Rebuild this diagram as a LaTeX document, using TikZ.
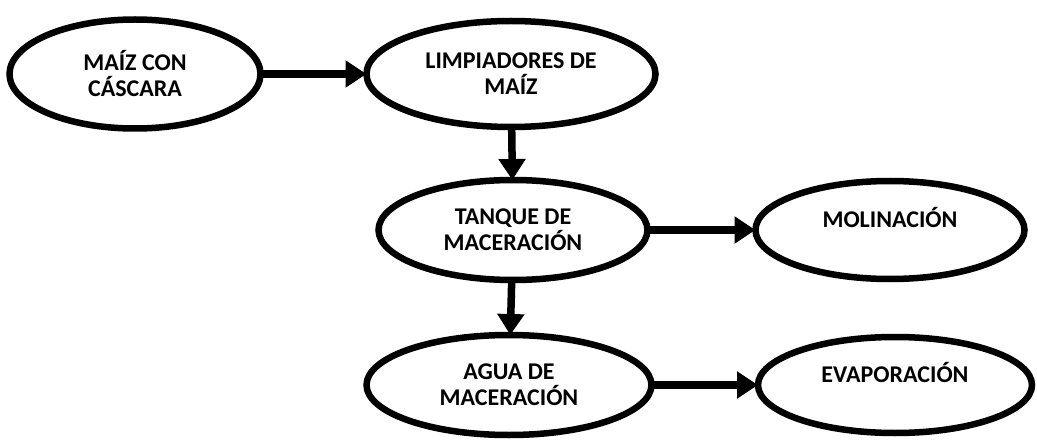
\documentclass[tikz,border=0pt]{standalone}
\usepackage{fontspec}
\setmainfont{Carlito}
\usetikzlibrary{shapes.geometric,arrows.meta,positioning}

\begin{document}
\begin{tikzpicture}[
    x=1pt, y=1pt,
    stage/.style={ellipse, draw, line width=6.5pt, inner sep=0pt, outer sep=0pt, align=center,
        font=\fontsize{24}{26}\selectfont\bfseries},
    arrow/.style={-{Triangle[length=21pt,width=26pt]}, line width=7.5pt}
]
    \useasboundingbox (0,0) rectangle (1037,-441);

    % Top row
    \node[stage, minimum width=251pt, minimum height=109pt] (maiz) at (135,-74) {MAÍZ CON\\CÁSCARA};
    \node[stage, minimum width=289pt, minimum height=106pt] (limp) at (511,-74) {LIMPIADORES DE\\MAÍZ};

    % Middle row
    \node[stage, minimum width=269pt, minimum height=100pt] (tanque) at (513,-230) {TANQUE DE\\MACERACIÓN};
    \node[stage, minimum width=269pt, minimum height=98pt] (molin) at (890,-230) {MOLINACIÓN\\\mbox{}};

    % Bottom row
    \node[stage, minimum width=285pt, minimum height=100pt] (agua) at (509,-385) {AGUA DE\\MACERACIÓN};
    \node[stage, minimum width=274pt, minimum height=96pt] (evap) at (895,-385) {EVAPORACIÓN\\\mbox{}};

    % Arrows
    \draw[arrow] (maiz) -- (limp);
    \draw[arrow] (limp) -- (tanque);
    \draw[arrow] (tanque) -- (molin);
    \draw[arrow] (tanque) -- (agua);
    \draw[arrow] (agua) -- (evap);
\end{tikzpicture}
\end{document}
